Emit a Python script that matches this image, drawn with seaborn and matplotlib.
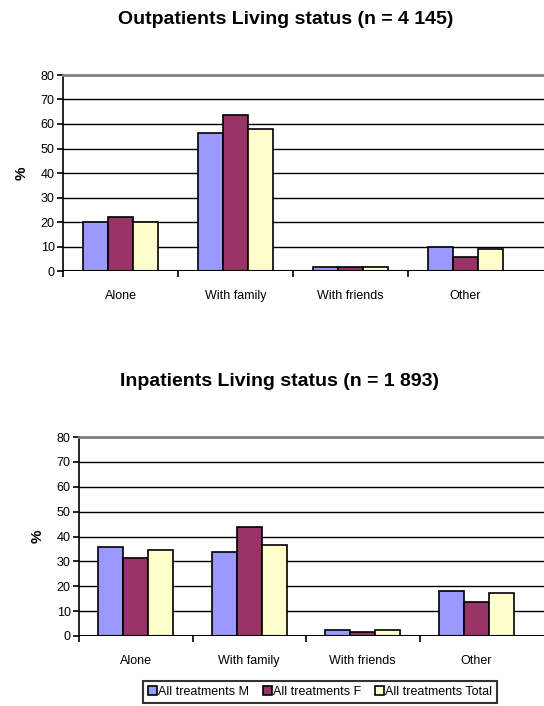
import matplotlib
matplotlib.use("Agg")
import matplotlib.pyplot as plt
import pandas as pd
import seaborn as sns
from matplotlib.patches import Patch

categories = ["Alone", "With family", "With friends", "Other"]
series = ["All treatments M", "All treatments F", "All treatments Total"]
colors = ["#9999FF", "#993366", "#FFFFCC"]

out_m = [20.2, 56.2, 1.8, 9.8]
out_f = [22.0, 63.6, 1.8, 5.7]
out_t = [20.2, 57.9, 1.8, 9.0]

in_m = [35.6, 33.9, 2.6, 17.9]
in_f = [31.5, 43.8, 1.7, 13.8]
in_t = [34.7, 36.4, 2.6, 17.1]

sns.set_theme(style="white")
plt.rcParams["font.family"] = ["Liberation Sans", "DejaVu Sans"]
plt.rcParams["text.color"] = "black"
plt.rcParams["axes.labelcolor"] = "black"
plt.rcParams["xtick.color"] = "black"
plt.rcParams["ytick.color"] = "black"


def long_df(m, f, t):
    rows = []
    for s, vals in zip(series, [m, f, t]):
        for c, v in zip(categories, vals):
            rows.append({"cat": c, "series": s, "value": v})
    return pd.DataFrame(rows)


def make_panel(fig, rect, df, xmax):
    ax = fig.add_axes(rect)
    sns.barplot(data=df, x="cat", y="value", hue="series", order=categories,
                hue_order=series, palette=colors, width=0.66, gap=0,
                edgecolor="black", linewidth=1.2, saturation=1,
                legend=False, ax=ax)
    ax.set_ylim(0, 80)
    ax.set_xlim(-0.5, xmax)
    ax.set_yticks(range(0, 90, 10))
    ax.set_axisbelow(True)
    ax.yaxis.grid(True, color="black", linewidth=1)
    for s in ["right", "bottom"]:
        ax.spines[s].set_visible(False)
    ax.spines["top"].set_color("#808080")
    ax.spines["top"].set_linewidth(2)
    ax.spines["left"].set_color("black")
    ax.spines["left"].set_linewidth(1.2)
    ax.axhline(0, color="black", linewidth=1.5, zorder=3)
    # category boundary ticks, labels sit in between
    ax.set_xticks([-0.5, 0.5, 1.5, 2.5], minor=True)
    ax.tick_params(axis="x", which="minor", bottom=True, length=4, width=1.2,
                   color="black", direction="out")
    ax.tick_params(axis="x", which="major", bottom=False, length=0, pad=14,
                   labelsize=9)
    ax.tick_params(axis="y", length=4, width=1.2, color="black", left=True,
                   direction="out", pad=2, labelsize=9)
    ax.set_xlabel("")
    ax.set_ylabel("%", fontsize=11, fontweight="bold", labelpad=9)
    return ax


fig = plt.figure(figsize=(5.44, 7.06), dpi=100)

make_panel(fig, [63 / 544, 1 - 271 / 706, 481 / 544, 196 / 706],
           long_df(out_m, out_f, out_t), -0.5 + 481 / 115)
make_panel(fig, [79 / 544, 1 - 636 / 706, 465 / 544, 199 / 706],
           long_df(in_m, in_f, in_t), -0.5 + 465 / 113.5)

fig.text(286 / 544, 1 - 20 / 706, "Outpatients Living status (n = 4 145)",
         ha="center", va="center", fontsize=14, fontweight="bold")
fig.text(279 / 544, 1 - 381 / 706, "Inpatients Living status (n = 1 893)",
         ha="center", va="center", fontsize=14, fontweight="bold")

handles = [Patch(facecolor=c, edgecolor="black", linewidth=1.2) for c in colors]
leg = fig.legend(handles, series, loc="upper center",
                 bbox_to_anchor=(320 / 544, 1 - 681 / 706), ncol=3,
                 fontsize=9, frameon=True, fancybox=False,
                 handlelength=0.7, handleheight=0.7, handletextpad=0.1,
                 columnspacing=1.1, borderpad=0.4, borderaxespad=0)
leg.get_frame().set_edgecolor("black")
leg.get_frame().set_linewidth(1.5)

fig.savefig("out.png", dpi=100)
